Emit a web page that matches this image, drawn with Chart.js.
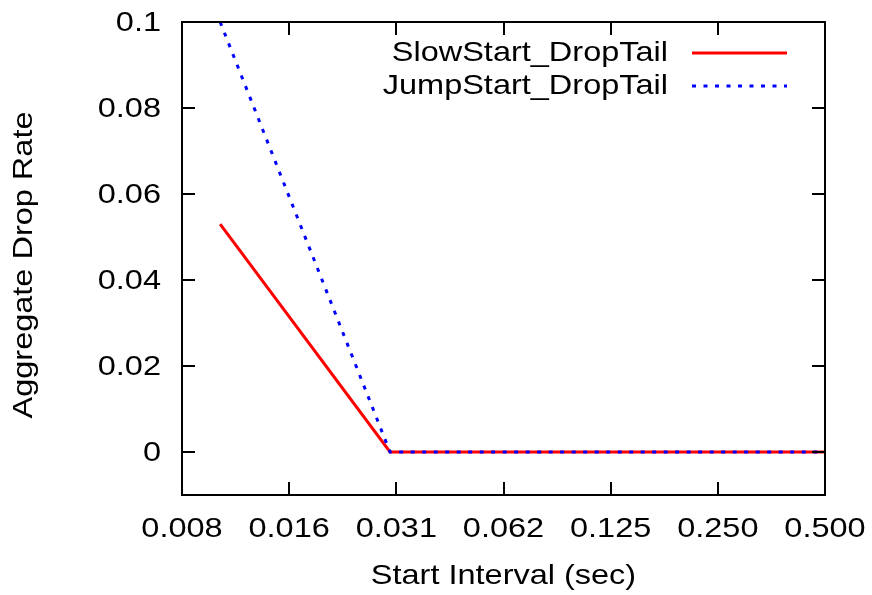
<!DOCTYPE html>
<html>
<head>
<meta charset="utf-8">
<script src="https://cdn.jsdelivr.net/npm/chart.js@4/dist/chart.umd.min.js"></script>
<style>
  body { margin: 0; background: #fff; }
  #wrap { width: 872px; height: 595px; }
</style>
</head>
<body>
<div id="wrap"><canvas id="chart" width="872" height="595"></canvas></div>
<script>
// data
const intervals = [0.01, 0.03, 0.05, 0.1, 0.2, 0.5];
const slowStart = [0.053, 0, 0, 0, 0, 0];
const jumpStart = [0.1, 0, 0, 0, 0, 0];

// axis ticks
const xTickValues = [0.0078125, 0.015625, 0.03125, 0.0625, 0.125, 0.25, 0.5];
const xTickLabels = ['0.008', '0.016', '0.031', '0.062', '0.125', '0.250', '0.500'];
const yTickValues = [0.1, 0.08, 0.06, 0.04, 0.02, 0];
const yTickLabels = ['0.1', '0.08', '0.06', '0.04', '0.02', '0'];

const FONT = "28px 'Liberation Sans', Arial, sans-serif";
const STRETCH = 1.16;

// draw text a bit wider, like the original plot
function drawText(ctx, text, x, y, align, rotate) {
  ctx.save();
  ctx.translate(x, y);
  if (rotate) ctx.rotate(-Math.PI / 2);
  ctx.scale(STRETCH, 1);
  ctx.font = FONT;
  ctx.fillStyle = '#000';
  ctx.textAlign = align;
  ctx.textBaseline = 'middle';
  ctx.fillText(text, 0, 0);
  ctx.restore();
}

// frame, inward ticks, labels and legend (gnuplot style)
const framePlugin = {
  id: 'frame',
  afterDraw(chart) {
    const ctx = chart.ctx;
    const a = chart.chartArea;
    const xs = chart.scales.x;
    const ys = chart.scales.y;
    const tick = 13;

    ctx.save();
    ctx.strokeStyle = '#000';
    ctx.lineWidth = 2;
    ctx.strokeRect(a.left, a.top, a.right - a.left, a.bottom - a.top);

    ctx.beginPath();
    xTickValues.forEach(v => {
      let px = Math.round(xs.getPixelForValue(v));
      ctx.moveTo(px, a.bottom); ctx.lineTo(px, a.bottom - tick);
      ctx.moveTo(px, a.top); ctx.lineTo(px, a.top + tick);
    });
    yTickValues.forEach(v => {
      let py = Math.round(ys.getPixelForValue(v));
      ctx.moveTo(a.left, py); ctx.lineTo(a.left + tick, py);
      ctx.moveTo(a.right, py); ctx.lineTo(a.right - tick, py);
    });
    ctx.stroke();
    ctx.restore();

    // tick labels
    xTickValues.forEach((v, i) => {
      drawText(ctx, xTickLabels[i], xs.getPixelForValue(v), 529, 'center');
    });
    yTickValues.forEach((v, i) => {
      drawText(ctx, yTickLabels[i], 161, ys.getPixelForValue(v) + 1, 'right');
    });

    // axis titles
    drawText(ctx, 'Start Interval (sec)', (a.left + a.right) / 2, 576, 'center');
    drawText(ctx, 'Aggregate Drop Rate', 24, 265, 'center', true);

    // legend
    const rows = [
      { label: 'SlowStart_DropTail', color: '#ff0000', dash: [], y: 53 },
      { label: 'JumpStart_DropTail', color: '#0000ff', dash: [4, 7.5], y: 86 }
    ];
    rows.forEach(r => {
      drawText(ctx, r.label, 668, r.y, 'right');
      ctx.save();
      ctx.strokeStyle = r.color;
      ctx.lineWidth = 3;
      ctx.setLineDash(r.dash);
      ctx.beginPath();
      ctx.moveTo(692, r.y);
      ctx.lineTo(787, r.y);
      ctx.stroke();
      ctx.restore();
    });
  }
};

const ctx = document.getElementById('chart').getContext('2d');
new Chart(ctx, {
  type: 'line',
  data: {
    datasets: [{
      label: 'SlowStart_DropTail',
      data: intervals.map((x, i) => ({ x: x, y: slowStart[i] })),
      borderColor: '#ff0000',
      borderWidth: 3,
      pointRadius: 0,
      tension: 0,
      order: 1
    }, {
      label: 'JumpStart_DropTail',
      data: intervals.map((x, i) => ({ x: x, y: jumpStart[i] })),
      borderColor: '#0000ff',
      borderWidth: 3,
      borderDash: [4, 7.5],
      pointRadius: 0,
      tension: 0,
      order: 0
    }]
  },
  options: {
    responsive: false,
    animation: false,
    devicePixelRatio: 1,
    layout: {
      padding: { left: 182, top: 22, right: 47, bottom: 100 }
    },
    scales: {
      x: {
        type: 'logarithmic',
        min: 0.0078125,
        max: 0.5,
        display: false
      },
      y: {
        type: 'linear',
        min: -0.01,
        max: 0.1,
        display: false
      }
    },
    plugins: {
      legend: { display: false },
      tooltip: { enabled: false }
    }
  },
  plugins: [framePlugin]
});
</script>
</body>
</html>
